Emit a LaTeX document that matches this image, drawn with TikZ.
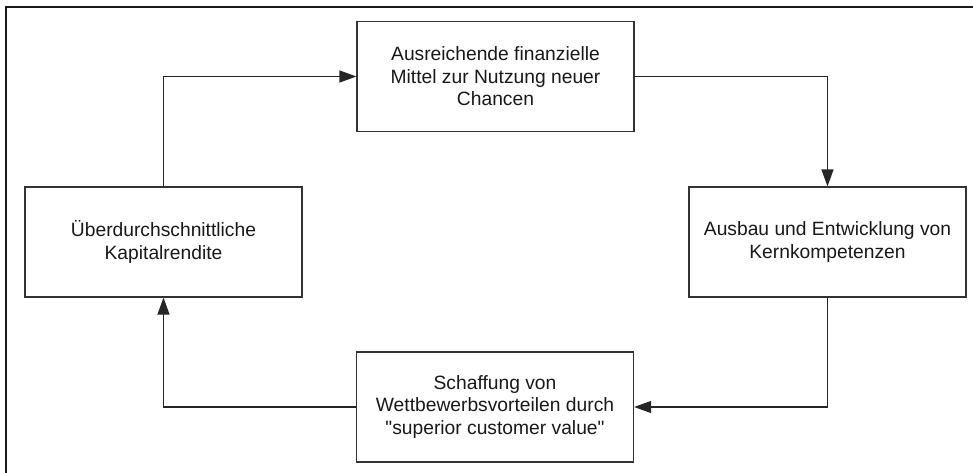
\documentclass[tikz,border=0pt]{standalone}
\usepackage{fontspec}
\setmainfont{Liberation Sans}[Ligatures=TeXOff]
\usetikzlibrary{arrows.meta}
\begin{document}
\begin{tikzpicture}[x=1pt,y=-1pt,
  box/.style={draw=black!80, line width=1.2pt, fill=white, minimum width=277pt, minimum height=110pt, inner sep=0pt, align=center, font=\fontsize{19.25}{22.5}\selectfont, text=black!90},
  conn/.style={draw=black!85, line width=1.2pt, -{Triangle[length=17pt,width=12pt]}}]
\useasboundingbox (0,0) rectangle (973,472);
\draw[line width=2pt, black!90] (5.5,473) -- (5.5,7) -- (974,7);
\node[box] (top) at (495.5,76.5) {Ausreichende finanzielle\\Mittel zur Nutzung neuer\\Chancen};
\node[box] (left) at (163.5,242) {Überdurchschnittliche\\Kapitalrendite};
\node[box] (right) at (827.5,242) {Ausbau und Entwicklung von\\Kernkompetenzen};
\node[box] (bottom) at (495,407) {Schaffung von\\Wettbewerbsvorteilen durch\\"superior customer value"};
\draw[conn] (left.north) |- (top.west);
\draw[conn] (top.east) -| (right.north);
\draw[conn] (right.south) |- (bottom.east);
\draw[conn] (bottom.west) -| (left.south);
\end{tikzpicture}
\end{document}
